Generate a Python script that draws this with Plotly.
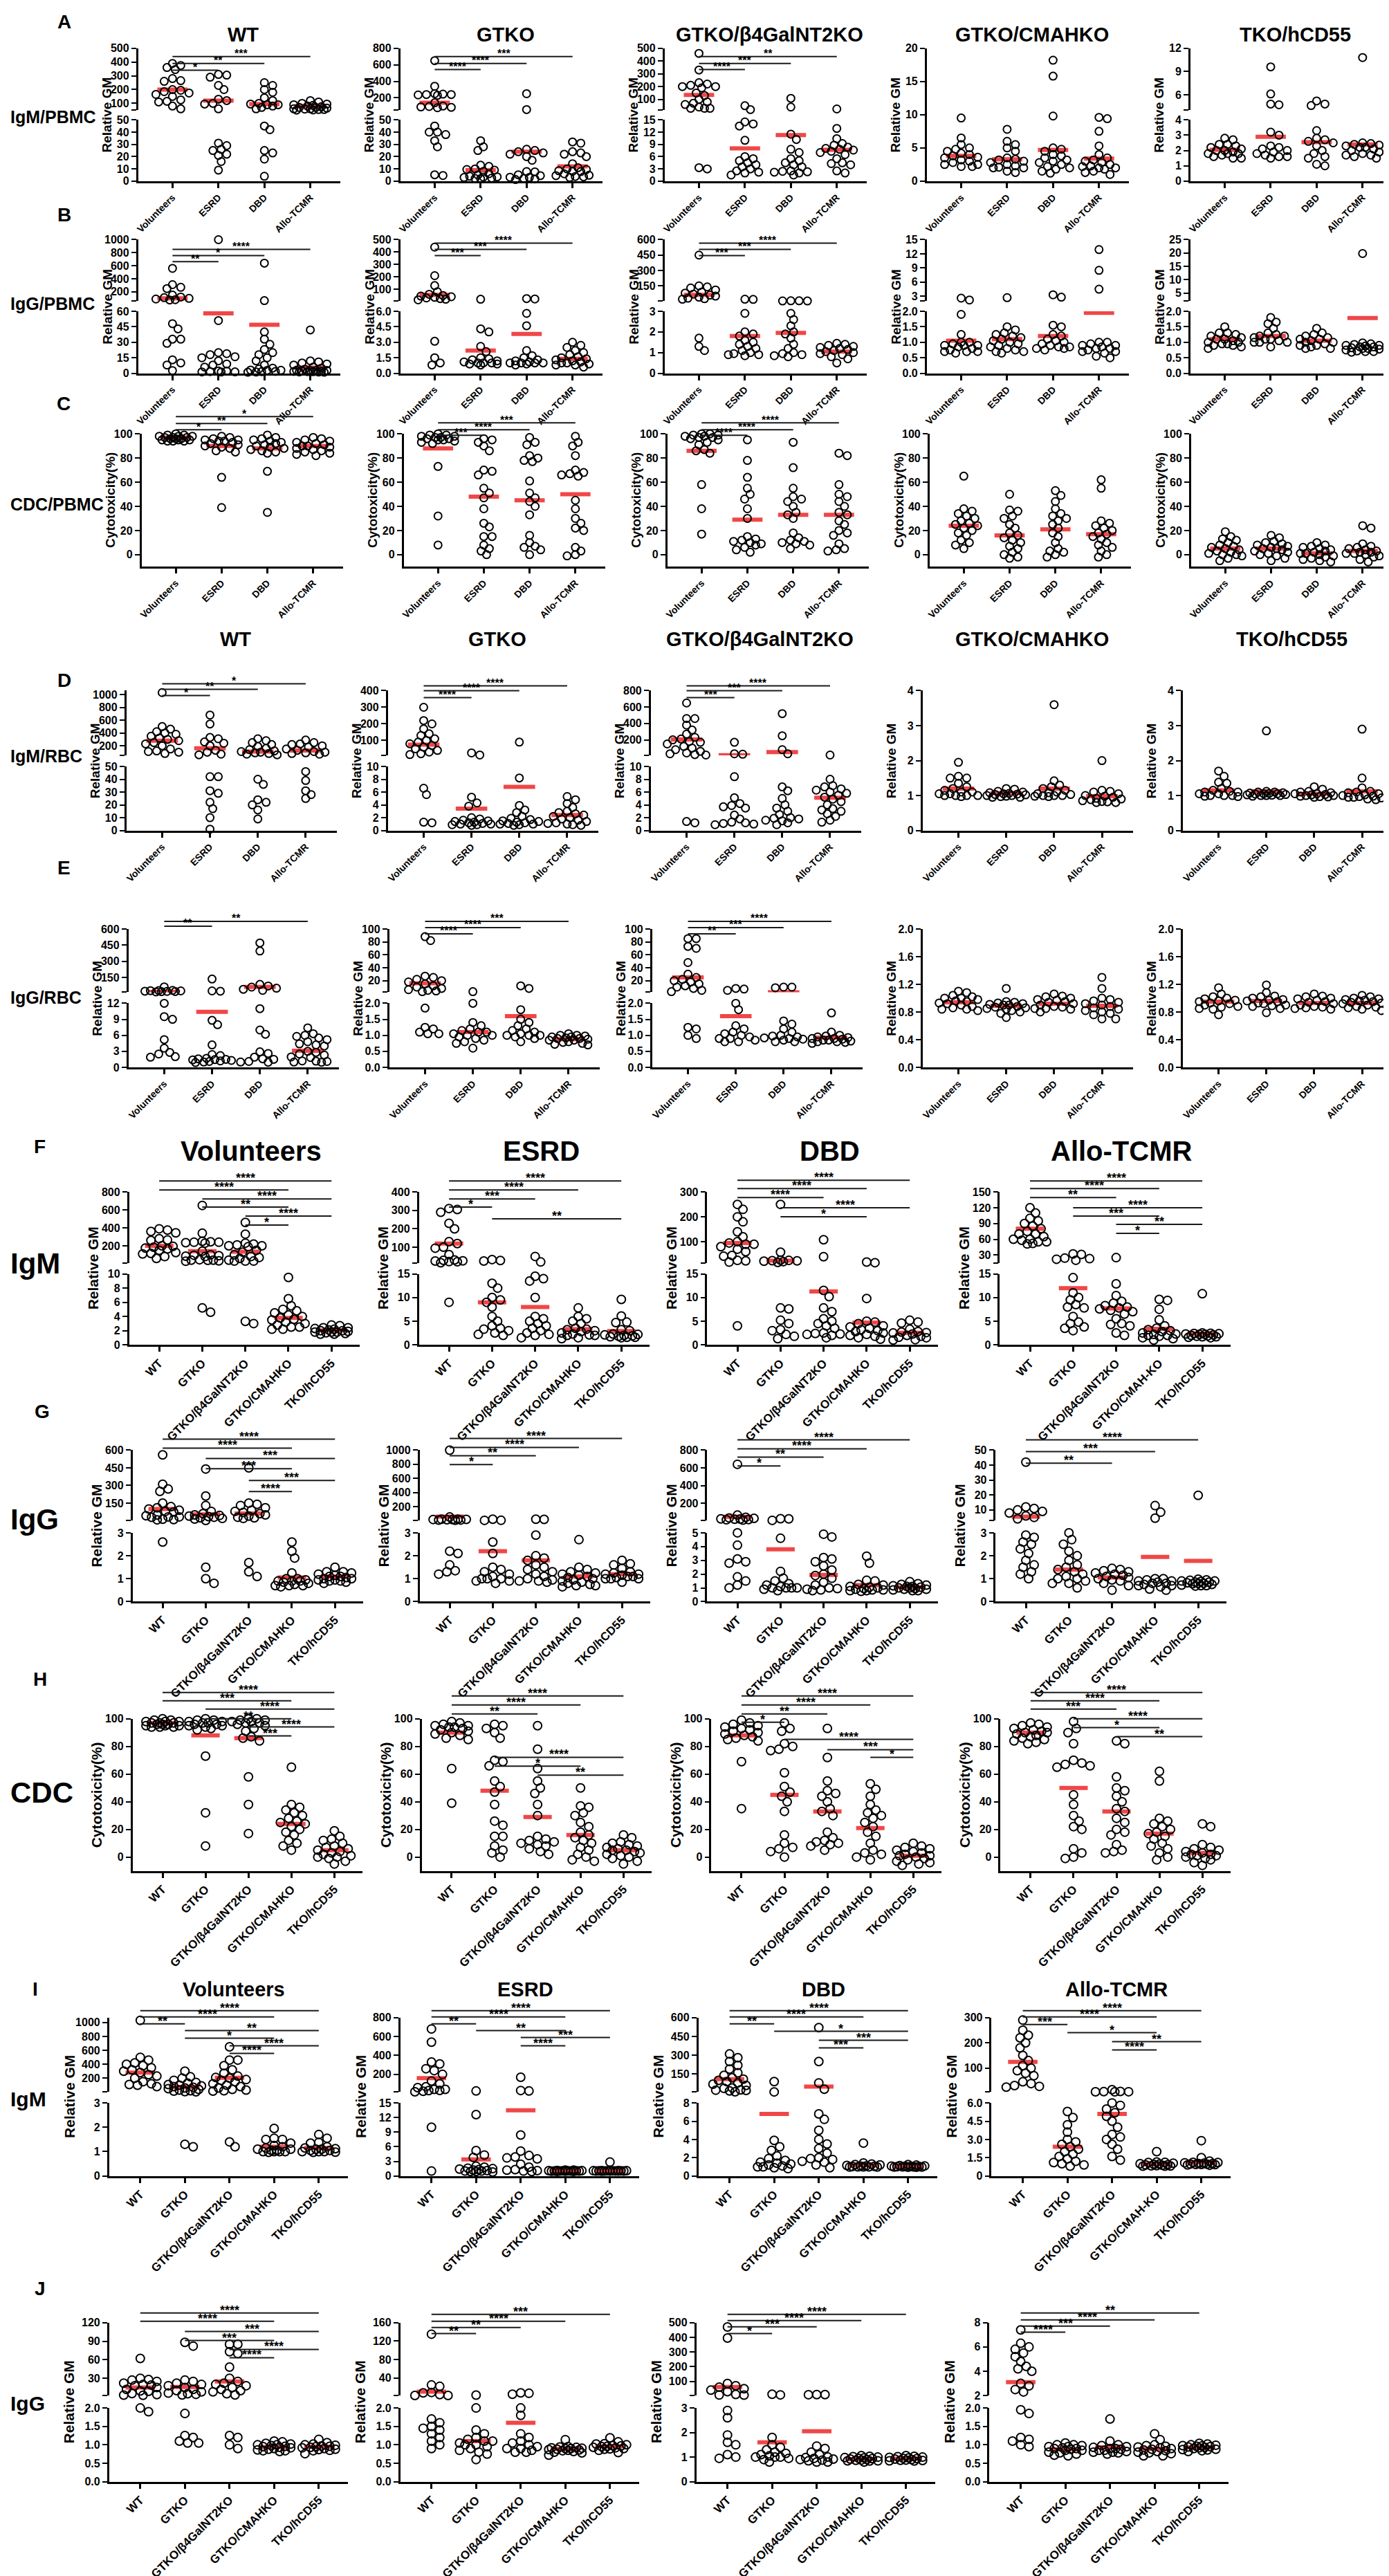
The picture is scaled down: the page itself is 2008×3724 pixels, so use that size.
import plotly.graph_objects as go

W, H = 2008, 3724

PATIENTS = ['Volunteers', 'ESRD', 'DBD', 'Allo-TCMR']
PIGS = ['WT', 'GTKO', 'GTKO/β4GalNT2KO', 'GTKO/CMAHKO', 'TKO/hCD55']
PIGS_ALLO = ['WT', 'GTKO', 'GTKO/β4GalNT2KO', 'GTKO/CMAH-KO', 'TKO/hCD55']

# ---- IgM binding to PBMC (groups: Volunteers, ESRD, DBD, Allo-TCMR), one list per pig
IGM_PBMC_WT = [
    [390, 375, 360, 345, 280, 265, 260, 200, 195, 185, 175, 165, 150, 125, 115, 110, 80, 60],
    [310, 305, 290, 230, 200, 130, 120, 100, 95, 60, 31, 29, 26, 25, 22, 21, 16, 9],
    [250, 230, 200, 180, 140, 120, 100, 95, 90, 90, 80, 70, 60, 45, 42, 25, 23, 18, 4],
    [120, 110, 100, 95, 90, 85, 80, 75, 70, 70, 65, 60, 60, 58, 55, 55, 52, 51],
]
IGM_PBMC_GTKO = [
    [650, 340, 250, 245, 240, 240, 235, 230, 140, 100, 95, 90, 85, 80, 45, 40, 40, 38, 33, 28, 5.2, 4.6],
    [33, 28, 25, 13, 12, 10, 9.5, 9, 8, 6, 5, 4, 3.5, 3.3, 3, 2.5, 2.2, 2.0],
    [250, 58, 26, 25, 24, 23, 22, 20, 17, 7.8, 7.6, 5.2, 4.5, 3.2, 3.0, 2.2, 1.8, 1.3],
    [32, 31, 24, 23, 22, 20, 14.2, 11, 10, 9.5, 8.5, 8, 7.8, 6, 4.8, 4.5, 3.8, 3.5, 3.0],
]
IGM_PBMC_B4 = [
    [460, 330, 230, 220, 210, 200, 200, 190, 150, 130, 100, 80, 70, 60, 40, 30, 30, 30, 3.3, 3.0],
    [50, 20, 14.5, 14, 13.5, 10, 6, 5.5, 5, 4.5, 4, 3.5, 3, 2.5, 2.2, 2, 1.5],
    [108, 40, 11.5, 10.2, 7.8, 7.0, 5.5, 5.0, 4.5, 4.0, 3.5, 2.5, 2.4, 2.3, 2.2, 2.0, 1.5],
    [25, 12.9, 10.4, 9.2, 8.8, 8.3, 8.0, 7.8, 7.6, 7.3, 7.0, 6.5, 5.5, 4.5, 4.3, 4.0, 2.5, 2.0],
]
IGM_PBMC_CMAH = [
    [9.5, 6.5, 5.5, 5, 4.8, 4.5, 4.2, 4, 3.8, 3.6, 3.5, 3.2, 3, 2.8, 2.5, 2.5, 2.2, 2.2],
    [7.8, 6.0, 5.5, 5, 4.5, 3.5, 3.3, 3.2, 3.0, 2.8, 2.5, 2.3, 2.1, 2.0, 2.0, 1.5, 1.3],
    [18.2, 15.8, 9.8, 5, 4.8, 4.5, 4, 3.8, 3.5, 3.2, 3, 2.8, 2.5, 2.2, 2, 1.8, 1.5, 1.2],
    [9.6, 9.4, 7.5, 5.3, 4, 3.5, 3.2, 3, 2.8, 2.5, 2.3, 2.2, 2.0, 2, 1.8, 1.5, 1.3, 1.0],
]
IGM_PBMC_TKO = [
    [2.8, 2.7, 2.4, 2.4, 2.3, 2.2, 2.1, 2.0, 2.0, 1.9, 1.8, 1.8, 1.8, 1.7, 1.6, 1.5, 1.5],
    [9.6, 6.1, 4.8, 4.7, 3.2, 3.0, 2.3, 2.2, 2.1, 2.0, 1.9, 1.8, 1.7, 1.6, 1.6, 1.5],
    [5.2, 4.8, 4.6, 3.3, 2.8, 2.7, 2.6, 2.5, 2.3, 2.0, 1.8, 1.6, 1.5, 1.1, 1.0],
    [10.8, 2.5, 2.45, 2.4, 2.35, 2.3, 2.2, 2.2, 2.1, 2.0, 1.9, 1.8, 1.7, 1.7, 1.6, 1.5],
]
IGM_PBMC_MEAN = [[200, 120, 95, 80], [140, 9, 24, 12], [135, 8, 11.3, 7.7],
                 [3.8, 3.3, 4.7, 3.4], [2.05, 2.9, 2.55, 2.4]]

# ---- IgG binding to PBMC
IGG_PBMC_WT = [
    [560, 310, 270, 250, 150, 120, 110, 100, 90, 80, 75, 48, 43, 33, 33, 29, 13, 10, 8, 2.6],
    [1000, 51, 20, 19, 18, 16, 15, 12, 9, 8, 6, 2.2, 2.1, 1.6, 1.35, 1.3, 1.2],
    [640, 65, 40, 33, 28, 23, 20, 18, 15, 12, 8, 5, 4.1, 3.1, 2.9, 2.8, 1.8, 1.5, 1.2, 1.0],
    [42, 12, 11, 10, 9, 8, 6, 5, 4, 2.9, 2.8, 2.6, 2.5, 2.3, 2.1, 1.8, 1.6, 1.5, 1.3, 1.2, 1.0],
]
IGG_PBMC_GTKO = [
    [440, 210, 130, 80, 60, 50, 45, 40, 35, 30, 25, 20, 15, 3.1, 1.5, 1.0, 0.8],
    [20, 4.3, 4.0, 2.6, 2.1, 1.5, 1.4, 1.3, 1.2, 1.1, 1.0, 1.0, 1.0, 0.9, 0.9, 0.8],
    [25, 22, 5.8, 4.6, 2.2, 1.7, 1.5, 1.3, 1.2, 1.1, 1.0, 1.0, 1.0, 1.0, 0.9, 0.8],
    [3.0, 2.7, 2.5, 2.2, 2.0, 1.8, 1.6, 1.5, 1.4, 1.3, 1.2, 1.1, 1.0, 1.0, 0.9, 0.8, 0.8, 0.6],
]
IGG_PBMC_B4 = [
    [450, 150, 140, 130, 110, 90, 80, 70, 60, 50, 40, 30, 25, 20, 1.7, 1.3, 1.1],
    [20, 18, 2.9, 2.0, 1.9, 1.8, 1.6, 1.5, 1.4, 1.3, 1.2, 1.1, 1.0, 0.95, 0.9, 0.9, 0.85],
    [4.9, 4.7, 3.2, 3.1, 2.9, 2.6, 2.3, 2.0, 1.9, 1.7, 1.4, 1.2, 1.0, 0.95, 0.9, 0.85, 0.8],
    [1.45, 1.4, 1.35, 1.3, 1.25, 1.2, 1.15, 1.1, 1.05, 1.0, 0.95, 0.9, 0.8, 0.7, 0.5],
]
IGG_PBMC_CMAH = [
    [2.6, 2.2, 1.9, 1.25, 1.0, 1.0, 0.95, 0.9, 0.9, 0.9, 0.85, 0.8, 0.75, 0.7, 0.7, 0.7, 0.65],
    [2.7, 1.5, 1.4, 1.3, 1.25, 1.2, 1.15, 1.1, 1.05, 1.0, 0.95, 0.9, 0.85, 0.8, 0.75, 0.7, 0.7, 0.65],
    [3.3, 2.8, 1.55, 1.5, 1.25, 1.2, 1.1, 1.05, 1.0, 0.95, 0.9, 0.85, 0.85, 0.8, 0.8, 0.75],
    [12.9, 8.5, 4.5, 1.0, 1.0, 0.95, 0.9, 0.9, 0.85, 0.8, 0.8, 0.75, 0.7, 0.7, 0.65, 0.55, 0.5],
]
IGG_PBMC_TKO = [
    [1.5, 1.3, 1.3, 1.25, 1.2, 1.15, 1.1, 1.1, 1.05, 1.0, 1.0, 0.95, 0.95, 0.9, 0.9, 0.85, 0.8],
    [1.8, 1.65, 1.6, 1.45, 1.3, 1.25, 1.2, 1.2, 1.15, 1.1, 1.1, 1.05, 1.0, 1.0, 1.0, 0.85],
    [1.45, 1.3, 1.25, 1.2, 1.15, 1.1, 1.1, 1.05, 1.0, 1.0, 0.95, 0.9, 0.9, 0.85, 0.8, 0.8],
    [19.8, 0.98, 0.95, 0.93, 0.9, 0.9, 0.88, 0.85, 0.85, 0.82, 0.8, 0.8, 0.78, 0.75, 0.72, 0.7, 0.7, 0.68],
]
IGG_PBMC_MEAN = [[100, 58, 47, 5.5], [55, 2.2, 3.8, 1.4], [62, 1.8, 1.95, 1.05],
                 [1.05, 1.1, 1.2, 1.95], [1.1, 1.2, 1.05, 1.78]]

# ---- CDC on PBMC, cytotoxicity (%)
CDC_WT = [
    [100, 99, 99, 98, 98, 98, 97, 97, 97, 96, 96, 96, 95, 95, 95, 94, 94, 94],
    [98, 97, 96, 95, 95, 94, 94, 93, 92, 91, 90, 89, 88, 86, 85, 64, 39],
    [99, 97, 96, 95, 94, 93, 92, 91, 90, 89, 88, 87, 86, 85, 84, 69, 35],
    [97, 96, 95, 94, 93, 92, 91, 90, 90, 89, 88, 87, 86, 85, 84, 83, 82],
]
CDC_GTKO = [
    [100, 99, 99, 98, 98, 97, 97, 96, 96, 95, 95, 94, 93, 92, 73, 32, 8],
    [96, 95, 93, 90, 86, 70, 69, 66, 55, 51, 47, 38, 26, 23, 15, 15, 8, 5, 3, 0],
    [97, 93, 91, 82, 80, 78, 77, 61, 51, 47, 44, 40, 33, 16, 10, 7, 6, 4, 0],
    [98, 93, 90, 82, 70, 68, 67, 66, 65, 45, 38, 30, 26, 22, 20, 6, 3, 0, -1],
]
CDC_B4 = [
    [100, 100, 99, 99, 98, 98, 97, 97, 96, 95, 93, 91, 87, 86, 84, 58, 38, 17],
    [95, 78, 64, 55, 50, 46, 38, 30, 15, 13, 12, 11, 10, 9, 8, 6, 4, 2],
    [93, 72, 55, 48, 46, 44, 40, 35, 33, 30, 18, 14, 12, 11, 10, 9, 8, 5],
    [84, 82, 58, 50, 48, 44, 40, 35, 33, 28, 25, 20, 18, 16, 9, 5, 4, 3],
]
CDC_CMAH = [
    [65, 38, 36, 34, 32, 30, 28, 26, 25, 24, 22, 20, 18, 16, 12, 10, 8, 5],
    [50, 37, 36, 32, 30, 25, 22, 18, 16, 14, 12, 10, 7, 5, 2, 0, -2, -3],
    [53, 49, 44, 38, 34, 32, 30, 28, 25, 22, 18, 15, 10, 5, 3, 2, 0, -2],
    [62, 55, 28, 26, 24, 22, 20, 18, 17, 15, 13, 10, 8, 6, 3, 0, -2],
]
CDC_TKO = [
    [19, 15, 13, 12, 10, 8, 7, 6, 5, 4, 3, 2, 1, 0, 0, -1, -3, -5],
    [16, 14, 11, 10, 9, 8, 7, 6, 5, 5, 4, 3, 2, 1, 0, -1, -3, -5],
    [10, 8, 7, 6, 5, 4, 3, 2, 1, 1, 0, -1, -2, -3, -4, -5, -6],
    [24, 22, 9, 7, 6, 5, 4, 3, 2, 2, 1, 1, 0, -1, -2, -4, -6],
]
CDC_MEAN = [[97, 90, 88, 90], [88, 48, 45, 50], [86, 29, 33, 33], [24, 16, 21, 17], [5, 5, 1, 3]]

# ---- IgM binding to RBC
IGM_RBC_WT = [
    [1030, 500, 460, 420, 400, 380, 350, 320, 300, 280, 250, 230, 200, 150, 120, 110, 100, 80],
    [680, 540, 330, 310, 260, 240, 200, 130, 100, 70, 60, 42, 42, 31, 29, 22, 17, 10, 1],
    [310, 280, 250, 220, 190, 160, 140, 120, 110, 100, 90, 80, 70, 60, 40, 36, 24, 22, 20, 16, 9],
    [290, 250, 230, 220, 200, 180, 150, 130, 110, 100, 90, 80, 70, 46, 39, 31, 28, 25],
]
IGM_RBC_GTKO = [
    [300, 220, 200, 170, 140, 130, 110, 100, 90, 80, 70, 60, 50, 40, 30, 20, 15, 6.6, 5.6, 1.3, 1.2],
    [25, 12.6, 5.2, 4.3, 3.8, 2.0, 1.8, 1.6, 1.5, 1.4, 1.3, 1.2, 1.1, 1.0, 1.0, 0.9, 0.9, 0.8],
    [90, 8.2, 3.9, 3.2, 2.8, 2.2, 1.9, 1.7, 1.5, 1.4, 1.3, 1.2, 1.1, 1.0, 1.0, 0.9, 0.8],
    [5.3, 4.8, 4.2, 3.6, 3.0, 2.8, 2.6, 2.4, 2.2, 2.0, 1.8, 1.6, 1.4, 1.2, 1.1, 1.0, 0.9, 0.8],
]
IGM_RBC_B4 = [
    [650, 460, 460, 380, 320, 270, 230, 210, 200, 180, 170, 150, 120, 100, 80, 60, 40, 30, 20, 15, 1.4, 1.2],
    [170, 30, 25, 8.4, 5.1, 4.2, 3.9, 3.7, 3.5, 2.4, 1.8, 1.3, 1.2, 1.1, 1.0, 0.9],
    [520, 250, 80, 30, 6.8, 6.2, 5.0, 4.0, 3.5, 3.0, 2.5, 2.0, 1.9, 1.8, 1.6, 1.5, 1.2, 0.9],
    [15, 8.0, 7.0, 6.8, 6.5, 6.3, 6.0, 5.8, 5.5, 5.2, 4.9, 4.5, 4.0, 3.4, 3.2, 3.0, 2.6, 2.2, 1.6, 1.3],
]
IGM_RBC_CMAH = [
    [1.95, 1.55, 1.5, 1.5, 1.35, 1.25, 1.2, 1.15, 1.1, 1.1, 1.05, 1.05, 1.0, 1.0, 1.0, 1.0, 0.97],
    [1.2, 1.18, 1.12, 1.1, 1.08, 1.06, 1.05, 1.04, 1.03, 1.02, 1.0, 1.0, 0.98, 0.97, 0.95, 0.95],
    [3.6, 1.42, 1.3, 1.25, 1.2, 1.15, 1.1, 1.08, 1.05, 1.03, 1.0, 1.0, 1.0, 0.98, 0.97],
    [2.0, 1.15, 1.12, 1.1, 1.05, 1.0, 0.98, 0.95, 0.92, 0.9, 0.88, 0.85, 0.83, 0.82, 0.8, 0.8],
]
IGM_RBC_TKO = [
    [1.7, 1.55, 1.38, 1.35, 1.2, 1.15, 1.12, 1.1, 1.1, 1.05, 1.05, 1.0, 1.0, 1.0, 0.98, 0.97],
    [2.85, 1.12, 1.1, 1.1, 1.08, 1.07, 1.06, 1.05, 1.05, 1.04, 1.03, 1.02, 1.01, 1.0, 1.0, 1.0, 0.98],
    [1.25, 1.18, 1.12, 1.1, 1.08, 1.05, 1.05, 1.03, 1.02, 1.0, 1.0, 0.98, 0.97, 0.96, 0.95],
    [2.9, 1.5, 1.22, 1.12, 1.1, 1.08, 1.05, 1.02, 1.0, 0.98, 0.97, 0.95, 0.95, 0.93, 0.9, 0.88],
]
IGM_RBC_MEAN = [[280, 160, 110, 125], [75, 3.4, 6.8, 2.4], [205, 13.5, 50, 5.1],
                [1.2, 1.07, 1.2, 0.98], [1.15, 1.12, 1.05, 1.12]]

# ---- IgG binding to RBC
IGG_RBC_WT = [
    [62, 30, 28, 27, 25, 22, 20, 19, 18, 15, 12, 9.5, 9.0, 5.2, 3.6, 2.8, 2.5, 2.0, 1.9],
    [135, 25, 22, 8.8, 8.0, 4.2, 2.4, 2.2, 1.7, 1.6, 1.5, 1.45, 1.4, 1.3, 1.2, 1.1, 1.0, 0.9],
    [470, 395, 85, 70, 60, 50, 40, 30, 11, 7.0, 6.2, 2.9, 2.6, 1.9, 1.6, 1.5, 1.1, 1.0, 0.95],
    [7.4, 6.3, 6.0, 5.8, 5.5, 5.2, 4.8, 4.4, 4.2, 4.0, 3.0, 2.8, 2.5, 2.3, 1.95, 1.85, 1.2, 1.15, 1.1, 1.0, 0.95],
]
IGG_RBC_GTKO = [
    [88, 82, 27, 25, 22, 20, 18, 15, 12, 10, 8, 6, 5, 4, 3, 1.85, 1.25, 1.2, 1.1, 1.05, 1.05],
    [3.0, 2.0, 1.4, 1.3, 1.2, 1.15, 1.1, 1.1, 1.05, 1.0, 1.0, 0.95, 0.9, 0.85, 0.8, 0.75, 0.6],
    [12, 8, 1.8, 1.5, 1.4, 1.3, 1.2, 1.15, 1.1, 1.05, 1.0, 1.0, 1.0, 0.95, 0.9, 0.8],
    [1.05, 1.0, 1.0, 0.98, 0.95, 0.95, 0.92, 0.9, 0.9, 0.88, 0.85, 0.85, 0.8, 0.78, 0.75, 0.72, 0.7],
]
IGG_RBC_B4 = [
    [85, 85, 73, 70, 48, 30, 25, 22, 20, 18, 15, 12, 10, 8, 5, 3, 1.25, 1.2, 1.0, 0.9],
    [8, 7, 5, 2.0, 1.8, 1.3, 1.2, 1.1, 1.05, 1.0, 0.95, 0.9, 0.9, 0.85, 0.8, 0.8],
    [10, 10, 9, 1.45, 1.35, 1.2, 1.1, 1.0, 0.98, 0.95, 0.92, 0.9, 0.88, 0.85, 0.8, 0.8],
    [1.7, 1.1, 1.0, 0.98, 0.95, 0.93, 0.9, 0.9, 0.88, 0.85, 0.85, 0.82, 0.8, 0.8, 0.78, 0.75],
]
IGG_RBC_CMAH = [
    [1.1, 1.08, 1.04, 1.02, 1.0, 1.0, 0.98, 0.96, 0.95, 0.93, 0.92, 0.9, 0.88, 0.86, 0.84, 0.84, 0.82],
    [1.14, 0.95, 0.94, 0.93, 0.92, 0.91, 0.9, 0.9, 0.88, 0.87, 0.86, 0.85, 0.84, 0.82, 0.8, 0.78, 0.72],
    [1.06, 1.03, 1.02, 1.0, 0.98, 0.97, 0.95, 0.94, 0.92, 0.9, 0.88, 0.87, 0.85, 0.85, 0.84, 0.8],
    [1.3, 1.14, 1.0, 0.98, 0.96, 0.94, 0.92, 0.9, 0.88, 0.86, 0.84, 0.82, 0.8, 0.78, 0.76, 0.7, 0.7],
]
IGG_RBC_TKO = [
    [1.15, 1.06, 1.02, 1.0, 0.99, 0.97, 0.96, 0.95, 0.93, 0.92, 0.9, 0.88, 0.87, 0.85, 0.84, 0.76],
    [1.19, 1.08, 1.03, 1.02, 1.0, 0.98, 0.97, 0.96, 0.95, 0.93, 0.92, 0.9, 0.89, 0.88, 0.85, 0.79],
    [1.06, 1.03, 1.02, 1.0, 0.99, 0.97, 0.95, 0.94, 0.92, 0.9, 0.88, 0.87, 0.86, 0.85, 0.84],
    [1.04, 1.02, 1.0, 0.99, 0.98, 0.97, 0.96, 0.95, 0.94, 0.93, 0.92, 0.9, 0.88, 0.87, 0.86, 0.84, 0.82],
]
IGG_RBC_MEAN = [[15, 10.4, 62, 3.1], [16, 1.1, 1.6, 0.88], [25, 1.6, 2.05, 0.93],
                [0.94, 0.89, 0.92, 0.89], [0.95, 0.96, 0.93, 0.93]]

# ---- significance, panels A-E (pairs of patient groups), one list per pig
SIG_IGM_PBMC = [[(0, 1, '*'), (0, 2, '**'), (0, 3, '***')],
                [(0, 1, '****'), (0, 2, '****'), (0, 3, '***')],
                [(0, 1, '****'), (0, 2, '***'), (0, 3, '**')], [], []]
SIG_IGG_PBMC = [[(0, 1, '**'), (0, 2, '*'), (0, 3, '****')],
                [(0, 1, '***'), (0, 2, '***'), (0, 3, '****')],
                [(0, 1, '***'), (0, 2, '***'), (0, 3, '****')], [], []]
SIG_CDC = [[(0, 1, '*'), (0, 2, '**'), (0, 3, '*')],
           [(0, 1, '***'), (0, 2, '****'), (0, 3, '***')],
           [(0, 1, '****'), (0, 2, '****'), (0, 3, '****')], [], []]
SIG_IGM_RBC = [[(0, 1, '*'), (0, 2, '**'), (0, 3, '*')],
               [(0, 1, '****'), (0, 2, '****'), (0, 3, '****')],
               [(0, 1, '***'), (0, 2, '***'), (0, 3, '****')], [], []]
SIG_IGG_RBC = [[(0, 1, '**'), (0, 3, '**')],
               [(0, 1, '****'), (0, 2, '****'), (0, 3, '***')],
               [(0, 1, '**'), (0, 2, '***'), (0, 3, '****')], [], []]

# ---- significance, panels F-J (pairs of pigs), one list per patient group
SIG_IGM_PBMC_G = [
    [(0, 4, '****'), (0, 3, '****'), (1, 4, '****'), (1, 3, '**'), (2, 4, '****'), (2, 3, '*')],
    [(0, 4, '****'), (0, 3, '****'), (0, 2, '***'), (0, 1, '*'), (1, 4, '**')],
    [(0, 4, '****'), (0, 3, '****'), (0, 2, '****'), (1, 4, '****'), (1, 3, '*')],
    [(0, 4, '****'), (0, 3, '****'), (0, 2, '**'), (1, 4, '****'), (1, 3, '***'), (2, 4, '**'), (2, 3, '*')]]
SIG_IGG_PBMC_G = [
    [(0, 4, '****'), (0, 3, '****'), (1, 4, '***'), (1, 3, '***'), (2, 4, '***'), (2, 3, '****')],
    [(0, 4, '****'), (0, 3, '****'), (0, 2, '**'), (0, 1, '*')],
    [(0, 4, '****'), (0, 3, '****'), (0, 2, '**'), (0, 1, '*')],
    [(0, 4, '****'), (0, 3, '***'), (0, 2, '**')]]
SIG_CDC_G = [
    [(0, 4, '****'), (0, 3, '***'), (1, 4, '****'), (1, 3, '**'), (2, 4, '****'), (2, 3, '***')],
    [(0, 4, '****'), (0, 3, '****'), (0, 2, '**'), (1, 4, '****'), (1, 3, '*'), (2, 4, '**')],
    [(0, 4, '****'), (0, 3, '****'), (0, 2, '**'), (0, 1, '*'), (1, 4, '****'), (2, 4, '***'), (3, 4, '*')],
    [(0, 4, '****'), (0, 3, '****'), (0, 2, '***'), (1, 4, '****'), (1, 3, '*'), (2, 4, '**')]]
SIG_IGM_RBC_G = [
    [(0, 4, '****'), (0, 3, '****'), (0, 1, '**'), (1, 4, '**'), (1, 3, '*'), (2, 4, '****'), (2, 3, '****')],
    [(0, 4, '****'), (0, 3, '****'), (0, 1, '**'), (1, 3, '**'), (2, 4, '***'), (2, 3, '****')],
    [(0, 4, '****'), (0, 3, '****'), (0, 1, '**'), (1, 4, '*'), (2, 4, '***'), (2, 3, '***')],
    [(0, 4, '****'), (0, 3, '****'), (0, 1, '***'), (1, 3, '*'), (2, 4, '**'), (2, 3, '****')]]
SIG_IGG_RBC_G = [
    [(0, 4, '****'), (0, 3, '****'), (1, 4, '***'), (1, 3, '***'), (2, 4, '****'), (2, 3, '****')],
    [(0, 4, '***'), (0, 3, '****'), (0, 2, '**'), (0, 1, '**')],
    [(0, 4, '****'), (0, 3, '****'), (0, 2, '***'), (0, 1, '*')],
    [(0, 4, '**'), (0, 3, '****'), (0, 2, '***'), (0, 1, '****')]]

# ---- y axes: (upper segment or None, lower segment), segment = (low, high, tick labels)
T10 = ['0', '10', '20', '30', '40', '50']
T2 = ['0.0', '0.5', '1.0', '1.5', '2.0']
AX_IGM_PBMC = [
    ((50, 500, ['100', '200', '300', '400', '500']), (0, 50, T10)),
    ((50, 800, ['200', '400', '600', '800']), (0, 50, T10)),
    ((15, 500, ['100', '200', '300', '400', '500']), (0, 15, ['0', '3', '6', '9', '12', '15'])),
    (None, (0, 20, ['0', '5', '10', '15', '20'])),
    ((4, 12, ['6', '9', '12']), (0, 4, ['0', '1', '2', '3', '4']))]
AX_IGG_PBMC = [
    ((60, 1000, ['200', '400', '600', '800', '1000']), (0, 60, ['0', '15', '30', '45', '60'])),
    ((6, 500, ['100', '200', '300', '400', '500']), (0, 6, ['0.0', '1.5', '3.0', '4.5', '6.0'])),
    ((3, 600, ['150', '300', '450', '600']), (0, 3, ['0', '1', '2', '3'])),
    ((2, 15, ['3', '6', '9', '12', '15']), (0, 2, T2)),
    ((2, 25, ['5', '10', '15', '20', '25']), (0, 2, T2))]
AX_CDC = (None, (-10, 100, ['0', '20', '40', '60', '80', '100']))
AX_IGM_RBC = [
    ((50, 1060, ['200', '400', '600', '800', '1000']), (0, 50, T10)),
    ((10, 400, ['100', '200', '300', '400']), (0, 10, ['0', '2', '4', '6', '8', '10'])),
    ((10, 800, ['200', '400', '600', '800']), (0, 10, ['0', '2', '4', '6', '8', '10'])),
    (None, (0, 4, ['0', '1', '2', '3', '4'])),
    (None, (0, 4, ['0', '1', '2', '3', '4']))]
AX_IGG_RBC = [
    ((12, 600, ['150', '300', '450', '600']), (0, 12, ['0', '3', '6', '9', '12'])),
    ((2, 100, ['20', '40', '60', '80', '100']), (0, 2, T2)),
    ((2, 100, ['20', '40', '60', '80', '100']), (0, 2, T2)),
    (None, (0, 2, ['0.0', '0.4', '0.8', '1.2', '1.6', '2.0'])),
    (None, (0, 2, ['0.0', '0.4', '0.8', '1.2', '1.6', '2.0']))]
AX_IGM_PBMC_G = [
    ((10, 800, ['200', '400', '600', '800']), (0, 10, ['0', '2', '4', '6', '8', '10'])),
    ((15, 400, ['100', '200', '300', '400']), (0, 15, ['0', '5', '10', '15'])),
    ((15, 300, ['100', '200', '300']), (0, 15, ['0', '5', '10', '15'])),
    ((15, 150, ['30', '60', '90', '120', '150']), (0, 15, ['0', '5', '10', '15']))]
AX_IGG_PBMC_G = [
    ((3, 600, ['150', '300', '450', '600']), (0, 3, ['0', '1', '2', '3'])),
    ((3, 1000, ['200', '400', '600', '800', '1000']), (0, 3, ['0', '1', '2', '3'])),
    ((5, 800, ['200', '400', '600', '800']), (0, 5, ['0', '1', '2', '3', '4', '5'])),
    ((3, 50, ['10', '20', '30', '40', '50']), (0, 3, ['0', '1', '2', '3']))]
AX_IGM_RBC_G = [
    ((3, 1070, ['200', '400', '600', '800', '1000']), (0, 3, ['0', '1', '2', '3'])),
    ((15, 800, ['200', '400', '600', '800']), (0, 15, ['0', '3', '6', '9', '12', '15'])),
    ((8, 600, ['150', '300', '450', '600']), (0, 8, ['0', '2', '4', '6', '8'])),
    ((6, 300, ['100', '200', '300']), (0, 6, ['0', '1.5', '3.0', '4.5', '6.0']))]
AX_IGG_RBC_G = [
    ((2, 120, ['30', '60', '90', '120']), (0, 2, T2)),
    ((2, 160, ['40', '80', '120', '160']), (0, 2, T2)),
    ((3, 500, ['100', '200', '300', '400', '500']), (0, 3, ['0', '1', '2', '3'])),
    ((2, 8, ['2', '4', '6', '8']), (0, 2, T2))]

# ---------------- page geometry (pixels) ----------------
FONT = 'Liberation Sans, Arial, sans-serif'

# cols: left edge of each plot, w: plot width, v: (top, upper bottom, lower top, bottom)
ROWS = {
    'A': dict(cols=[187, 567, 950, 1330, 1712], w=293, v=(54, 144, 158, 247), tx=45),
    'B': dict(cols=[187, 567, 950, 1330, 1712], w=293, v=(332, 421, 436, 526), tx=45),
    'C': dict(cols=[192, 572, 954, 1334, 1713], w=292, v=(614, 0, 0, 807), tx=45),
    'D': dict(cols=[170, 549, 930, 1324, 1701], w=305, v=(987, 1081, 1097, 1190), tx=45),
    'E': dict(cols=[173, 551, 932, 1324, 1701], w=305, v=(1333, 1425, 1441, 1534), tx=45),
    'F': dict(cols=[174, 594, 1012, 1436], w=334, v=(1715, 1818, 1834, 1937), tx=52),
    'G': dict(cols=[179, 595, 1012, 1430], w=334, v=(2090, 2192, 2210, 2310), tx=52),
    'H': dict(cols=[179, 598, 1018, 1437], w=333, v=(2480, 0, 0, 2701), tx=52),
    'I': dict(cols=[145, 567, 999, 1424], w=346, v=(2914, 3022, 3038, 3144), tx=58),
    'J': dict(cols=[145, 567, 996, 1421], w=346, v=(3357, 3463, 3481, 3588), tx=58),
}
SIGY = {
    'A': [[86, 76, 66], [85, 76, 66], [85, 76, 66], [], []],
    'B': [[364, 355, 346], [355, 346, 337], [355, 346, 337], [], []],
    'C': [[608, 599, 589], [616, 608, 598], [616, 608, 598], [], []],
    'D': [[994, 985, 977], [997, 987, 980], [997, 987, 980], [], []],
    'E': [[1329, 1322], [1340, 1331, 1322], [1340, 1331, 1322], [], []],
    'F': [[1699, 1712, 1725, 1737, 1750, 1763], [1699, 1712, 1725, 1737, 1754],
          [1698, 1710, 1723, 1738, 1751], [1699, 1710, 1723, 1738, 1750, 1762, 1775]],
    'G': [[2074, 2087, 2102, 2117, 2134, 2150], [2073, 2086, 2098, 2111],
          [2075, 2088, 2100, 2113], [2075, 2092, 2109]],
    'H': [[2442, 2454, 2466, 2480, 2492, 2505], [2447, 2460, 2473, 2536, 2549, 2562],
          [2447, 2460, 2473, 2485, 2510, 2525, 2536], [2442, 2454, 2466, 2480, 2493, 2506]],
    'I': [[2904, 2913, 2923, 2933, 2944, 2955, 2966], [2904, 2913, 2923, 2933, 2943, 2955],
          [2904, 2913, 2923, 2934, 2947, 2958], [2904, 2913, 2924, 2936, 2949, 2961]],
    'J': [[3343, 3355, 3370, 3383, 3396, 3408], [3345, 3355, 3364, 3373],
          [3345, 3354, 3363, 3373], [3343, 3353, 3362, 3371]],
}

fig = go.Figure()
layout = dict(width=W, height=H, margin=dict(l=0, r=0, t=0, b=0),
              paper_bgcolor='white', plot_bgcolor='white', showlegend=False)
shapes, annos = [], []
count = {'x': 0, 'y': 0}


def new_axis(kind):
    count[kind] += 1
    n = count[kind]
    return (kind if n == 1 else kind + str(n)), (kind + 'axis' if n == 1 else kind + 'axis' + str(n))


def pf(px):
    return 1 - px / H


def spread(pys, step, dmin, maxoff):
    # Prism-like scatter: points that would overlap are pushed sideways
    order = sorted(range(len(pys)), key=lambda i: pys[i])
    cand = [0.0]
    k = 1
    while k * step <= maxoff:
        cand += [k * step, -k * step]
        k += 1
    placed, offs = [], [0.0] * len(pys)
    for i in order:
        y = pys[i]
        best, best_d = 0.0, -1.0
        for c in cand:
            d = min([((c - a) ** 2 + (y - b) ** 2) ** 0.5 for a, b in placed] or [1e9])
            if d >= dmin:
                best = c
                break
            if d > best_d:
                best, best_d = c, d
        placed.append((best, y))
        offs[i] = best
    return offs


def panel(rk, ci, groups, means, sigs, sig_y, axes, cats, ytitle, big):
    r = ROWS[rk]
    x0 = r['cols'][ci]
    x1 = x0 + r['w']
    v = r['v']
    n = len(cats)
    xr = [-0.75 if n == 4 else -0.7, n - 0.35]
    ppu = r['w'] / (xr[1] - xr[0])
    upper, lower = axes
    xn, xk = new_axis('x')
    segs = []
    ln, lk = new_axis('y')
    if upper is None:
        segs.append((ln, lk, lower, v[0], v[3], False))
    else:
        segs.append((ln, lk, lower, v[2], v[3], False))
        un, uk = new_axis('y')
        segs.append((un, uk, upper, v[0], v[1], True))

    def seg_of(val):
        return 1 if (len(segs) == 2 and val > lower[1]) else 0

    def ypx(val):
        s = segs[seg_of(val)]
        lo, hi = s[2][0], s[2][1]
        return s[4] - (val - lo) / (hi - lo) * (s[4] - s[3])

    ms = 12 if big else 11
    pts = [([], []), ([], [])]
    for gi, vals in enumerate(groups):
        offs = spread([ypx(val) for val in vals], 4.0, ms - 1.5, 0.42 * ppu)
        for val, o in zip(vals, offs):
            s = seg_of(val)
            pts[s][0].append(gi + o / ppu)
            pts[s][1].append(val)
    mx = [([], []), ([], [])]
    for gi, m in enumerate(means):
        s = seg_of(m)
        mx[s][0].extend([gi - 0.33, gi + 0.33, None])
        mx[s][1].extend([m, m, None])

    for si, s in enumerate(segs):
        if mx[si][0]:
            fig.add_trace(go.Scatter(x=mx[si][0], y=mx[si][1], xaxis=xn, yaxis=s[0], mode='lines',
                                     line=dict(color='rgba(238,45,45,0.88)', width=6),
                                     hoverinfo='skip', cliponaxis=False))
        if pts[si][0]:
            fig.add_trace(go.Scatter(x=pts[si][0], y=pts[si][1], xaxis=xn, yaxis=s[0], mode='markers',
                                     marker=dict(symbol='circle-open', size=ms, color='black',
                                                 line=dict(width=2, color='black')),
                                     cliponaxis=False))

    layout[xk] = dict(domain=[x0 / W, x1 / W], range=xr, anchor=segs[0][0], tickmode='array',
                      tickvals=list(range(n)), ticktext=cats, tickangle=-45, showline=True,
                      linecolor='black', linewidth=3, ticks='outside', ticklen=7, tickwidth=2.5,
                      tickcolor='black', showgrid=False, zeroline=False, fixedrange=True,
                      tickfont=dict(family=FONT, size=17 if big else 14, color='black', weight='bold'))
    for nm, key, (lo, hi, labs), ptop, pbot, is_up in segs:
        vals = [float(t) for t in labs]
        texts = list(labs)
        if is_up and lo not in vals:
            vals.append(lo)
            texts.append('')
        layout[key] = dict(domain=[pf(pbot), pf(ptop)], range=[lo, hi], anchor=xn, tickmode='array',
                           tickvals=vals, ticktext=texts, showline=True, linecolor='black', linewidth=2.5,
                           ticks='outside', ticklen=7, tickwidth=2, tickcolor='black', showgrid=False,
                           zeroline=False, fixedrange=True,
                           tickfont=dict(family=FONT, size=16, color='black', weight='bold'))

    for (i, j, lab), yp in zip(sigs, sig_y):
        shapes.append(dict(type='line', xref=xn, yref='paper', x0=i, x1=j, y0=pf(yp), y1=pf(yp),
                           line=dict(color='#1a1a1a', width=2)))
        annos.append(dict(xref=xn, yref='paper', x=(i + j) / 2, y=pf(yp), text=lab, showarrow=False,
                          xanchor='center', yanchor='middle', yshift=4,
                          font=dict(family=FONT, size=18 if big else 16, color='black', weight='bold')))

    annos.append(dict(xref='paper', yref='paper', x=(x0 - r['tx']) / W, y=pf((v[0] + v[3]) / 2),
                      text=ytitle, textangle=-90, showarrow=False, xanchor='center', yanchor='middle',
                      font=dict(family=FONT, size=21 if big else 19, color='black', weight='bold')))


ROWS_AE = [
    ('A', [IGM_PBMC_WT, IGM_PBMC_GTKO, IGM_PBMC_B4, IGM_PBMC_CMAH, IGM_PBMC_TKO], IGM_PBMC_MEAN,
     SIG_IGM_PBMC, AX_IGM_PBMC, 'Relative GM'),
    ('B', [IGG_PBMC_WT, IGG_PBMC_GTKO, IGG_PBMC_B4, IGG_PBMC_CMAH, IGG_PBMC_TKO], IGG_PBMC_MEAN,
     SIG_IGG_PBMC, AX_IGG_PBMC, 'Relative GM'),
    ('C', [CDC_WT, CDC_GTKO, CDC_B4, CDC_CMAH, CDC_TKO], CDC_MEAN, SIG_CDC, [AX_CDC] * 5,
     'Cytotoxicity(%)'),
    ('D', [IGM_RBC_WT, IGM_RBC_GTKO, IGM_RBC_B4, IGM_RBC_CMAH, IGM_RBC_TKO], IGM_RBC_MEAN,
     SIG_IGM_RBC, AX_IGM_RBC, 'Relative GM'),
    ('E', [IGG_RBC_WT, IGG_RBC_GTKO, IGG_RBC_B4, IGG_RBC_CMAH, IGG_RBC_TKO], IGG_RBC_MEAN,
     SIG_IGG_RBC, AX_IGG_RBC, 'Relative GM'),
]
ROWS_FJ = [
    ('F', ROWS_AE[0][1], IGM_PBMC_MEAN, SIG_IGM_PBMC_G, AX_IGM_PBMC_G, 'Relative GM'),
    ('G', ROWS_AE[1][1], IGG_PBMC_MEAN, SIG_IGG_PBMC_G, AX_IGG_PBMC_G, 'Relative GM'),
    ('H', ROWS_AE[2][1], CDC_MEAN, SIG_CDC_G, [AX_CDC] * 4, 'Cytotoxicity(%)'),
    ('I', ROWS_AE[3][1], IGM_RBC_MEAN, SIG_IGM_RBC_G, AX_IGM_RBC_G, 'Relative GM'),
    ('J', ROWS_AE[4][1], IGG_RBC_MEAN, SIG_IGG_RBC_G, AX_IGG_RBC_G, 'Relative GM'),
]

for rk, pans, means, sigs, axes, yt in ROWS_AE:
    for ci in range(5):
        panel(rk, ci, pans[ci], means[ci], sigs[ci], SIGY[rk][ci], axes[ci], PATIENTS, yt, False)

# rows F-J show the same measurements regrouped by patient group
for rk, pans, means, sigs, axes, yt in ROWS_FJ:
    for p in range(4):
        groups = [pn[p] for pn in pans]
        gmeans = [m[p] for m in means]
        cats = PIGS_ALLO if (p == 3 and rk in 'FI') else PIGS
        panel(rk, p, groups, gmeans, sigs[p], SIGY[rk][p], axes[p], cats, yt, True)


def text(x, y, s, size, xanchor='center'):
    annos.append(dict(xref='paper', yref='paper', x=x / W, y=pf(y), text=s, showarrow=False,
                      xanchor=xanchor, yanchor='middle',
                      font=dict(family=FONT, size=size, color='black', weight='bold')))


for rk, ty in (('A', 34), ('D', 912)):
    r = ROWS[rk]
    for ci, name in enumerate(PIGS):
        text(r['cols'][ci] + r['w'] / 2 + 6, ty, name, 29)
for ci, name in enumerate(PATIENTS):
    r = ROWS['F']
    text(r['cols'][ci] + r['w'] / 2 + 10, 1656, name, 40)
    r = ROWS['I']
    text(r['cols'][ci] + r['w'] / 2 + 8, 2873, name, 29)

for s, y in (('IgM/PBMC', 154), ('IgG/PBMC', 425), ('CDC/PBMC', 716), ('IgM/RBC', 1082), ('IgG/RBC', 1433)):
    text(0, y, s, 25, 'left')
for s, y in (('IgM', 1819), ('IgG', 2191), ('CDC', 2587)):
    text(0, y, s, 42, 'left')
for s, y in (('IgM', 3032), ('IgG', 3474)):
    text(0, y, s, 30, 'left')
for s, x, y in (('A', 80, 16), ('B', 80, 296), ('C', 79, 570), ('D', 80, 972), ('E', 80, 1244),
                ('F', 45, 1649), ('G', 48, 2034), ('H', 45, 2423), ('I', 38, 2873), ('J', 45, 3308)):
    text(x, y, s, 28)

layout['shapes'] = shapes
layout['annotations'] = annos
fig.update_layout(**layout)
fig.write_html("out.html")
